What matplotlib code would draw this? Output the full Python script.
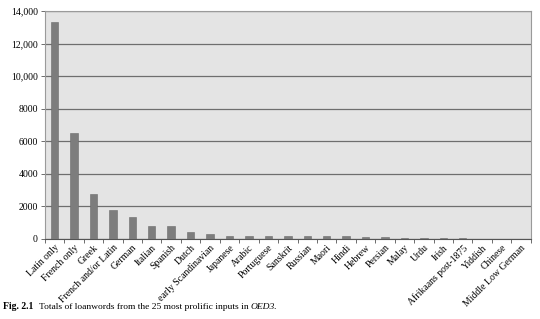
import matplotlib
matplotlib.use('Agg')
import numpy as np
from matplotlib import pyplot as plt
from matplotlib.ticker import FixedLocator, NullFormatter

# 25 most prolific inputs in OED3
languages = ['Latin only', 'French only', 'Greek', 'French and/or Latin', 'German',
             'Italian', 'Spanish', 'Dutch', 'early Scandinavian', 'Japanese',
             'Arabic', 'Portuguese', 'Sanskrit', 'Russian', 'Maori', 'Hindi',
             'Hebrew', 'Persian', 'Malay', 'Urdu', 'Irish', 'Afrikaans post-1875',
             'Yiddish', 'Chinese', 'Middle Low German']
totals = [13300, 6480, 2780, 1750, 1350, 810, 780, 420, 320, 200,
          200, 170, 150, 150, 160, 150, 130, 130, 40, 35,
          30, 30, 25, 25, 20]
yticks = [0, 2000, 4000, 6000, 8000, 10000, 12000, 14000]
ylabels = ['0', '2000', '4000', '6000', '8000', '10,000', '12,000', '14,000']

plt.rcParams['font.family'] = ['Liberation Serif', 'DejaVu Serif']

fig = plt.figure(figsize=(5.4, 3.19), dpi=100)
ax = fig.add_axes([0.083, 0.251, 0.9, 0.7145])
ax.set_facecolor('#e4e4e4')

x = np.arange(len(languages))
ax.bar(x, totals, width=0.38, color='#7d7d7d', edgecolor='#6a6a6a', linewidth=0.4, zorder=3)

ax.set_xlim(-0.5, len(languages) - 0.5)
ax.set_ylim(0, 14000)
ax.set_yticks(yticks)
ax.set_yticklabels(ylabels, fontsize=7)
ax.yaxis.grid(True, color='#6e6e6e', linewidth=0.9, zorder=1)

# category labels at centres, tick marks at boundaries
ax.set_xticks(x)
ax.set_xticklabels(languages, rotation=45, ha='right', rotation_mode='anchor', fontsize=7)
ax.tick_params(axis='x', length=0, pad=3)
ax.xaxis.set_minor_locator(FixedLocator(np.arange(-0.5, len(languages), 1.0)))
ax.xaxis.set_minor_formatter(NullFormatter())
ax.tick_params(axis='x', which='minor', length=3, width=0.6, color='#555555', direction='out')
ax.tick_params(axis='y', length=3, width=0.6, color='#555555', pad=2)

for side in ['top', 'right', 'left']:
    ax.spines[side].set_color('#9a9a9a')
    ax.spines[side].set_linewidth(0.8)
ax.spines['bottom'].set_color('#555555')
ax.spines['bottom'].set_linewidth(0.8)

# caption: bold figure number, plain text, italic OED3
cy = 0.032
t1 = fig.text(0.006, cy, 'Fig. 2.1', fontsize=7, fontweight='bold')
fig.canvas.draw()
bb = t1.get_window_extent()
t2 = fig.text((bb.x1 + 5) / fig.bbox.width, cy,
              'Totals of loanwords from the 25 most prolific inputs in ', fontsize=6.8)
fig.canvas.draw()
bb = t2.get_window_extent()
fig.text(bb.x1 / fig.bbox.width, cy, 'OED3.', fontsize=6.8, style='italic')

fig.savefig('out.png', dpi=100)
